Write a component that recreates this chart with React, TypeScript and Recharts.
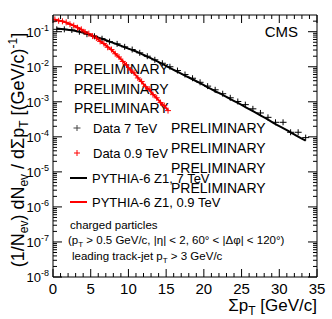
import { ComposedChart, Line, Scatter, XAxis, YAxis } from 'recharts'

// ΣpT bin centres [GeV/c]
const pt7 = [
  0.5, 1.5, 2.5, 3.5, 4.5, 5.5, 6.5, 7.5, 8.5, 9.5, 10.5, 11.5, 12.5, 13.5, 14.5, 15.5, 16.5,
  17.5, 18.5, 19.5, 20.5, 21.5, 22.5, 23.5, 24.5, 25.5, 26.5, 27.5, 28.5, 29.5, 30.5, 31.5, 32.5, 33.5
]
const data7 = [
  0.117, 0.117, 0.112, 0.1, 0.085, 0.074, 0.063, 0.052, 0.045, 0.037, 0.031, 0.025, 0.02, 0.0158,
  0.0126, 0.01, 0.0078, 0.006, 0.0047, 0.0036, 0.0028, 0.0022, 0.0017, 0.0013, 0.00102, 0.00083,
  0.00063, 0.00048, 0.00036, 0.00026, 0.00026, 0.000135, 0.000135, 0.000095
]
const pythia7 = [
  0.123, 0.117, 0.11, 0.1, 0.087, 0.074, 0.063, 0.052, 0.044, 0.036, 0.03, 0.0245, 0.0195, 0.0155,
  0.012, 0.0093, 0.0072, 0.0056, 0.0044, 0.0034, 0.0026, 0.002, 0.00158, 0.0012, 0.00093, 0.00071,
  0.00054, 0.00041, 0.00031, 0.00023, 0.000178, 0.000135, 0.000102, 0.000078
]

const pt09 = [
  0.25, 0.75, 1.25, 1.75, 2.25, 2.75, 3.25, 3.75, 4.25, 4.75, 5.25, 5.75, 6.25, 6.75, 7.25, 7.75,
  8.25, 8.75, 9.25, 9.75, 10.25, 10.75, 11.25, 11.75, 12.25, 12.75, 13.25, 13.75, 14.25, 14.75, 15.25
]
const data09 = [
  0.225, 0.205, 0.198, 0.185, 0.163, 0.15, 0.13, 0.117, 0.098, 0.088, 0.075, 0.066, 0.053, 0.046,
  0.036, 0.031, 0.0235, 0.019, 0.0142, 0.0112, 0.0081, 0.0067, 0.0048, 0.0038, 0.0027, 0.0023,
  0.0016, 0.0013, 0.00095, 0.00078, 0.00056
]
const pythia09 = [
  0.219, 0.209, 0.2, 0.182, 0.166, 0.148, 0.132, 0.115, 0.1, 0.087, 0.076, 0.065, 0.054, 0.045,
  0.037, 0.03, 0.024, 0.0186, 0.0145, 0.011, 0.0083, 0.0065, 0.0049, 0.0037, 0.0028, 0.0022,
  0.00166, 0.00126, 0.00098, 0.00076, 0.00058
]

const xTicks = Array.from({ length: 36 }, (_, i) => i)
const yExps = [-8, -7, -6, -5, -4, -3, -2, -1]
const yTicks = yExps.flatMap((e) => [1, 2, 3, 4, 5, 6, 7, 8, 9].map((m) => m * Math.pow(10, e))).filter((v) => v <= 0.3)

const FONT = '"Liberation Sans", Arial, sans-serif'
const RED = '#ff0000'

const pts = (xs: number[], ys: number[]) => xs.map((x, i) => ({ x, y: ys[i] }))

const isDecade = (v: number) => Math.abs(Math.log10(v) - Math.round(Math.log10(v))) < 1e-6

const XTick = ({ x, y, payload, side }: any) => {
  const major = payload.value % 5 === 0
  const len = major ? 8 : 4
  const dir = side === 'bottom' ? -1 : 1
  return (
    <g>
      <line x1={x} y1={y} x2={x} y2={y + dir * len} stroke='#000' strokeWidth={1} />
      {side === 'bottom' && major && (
        <text x={x} y={y + 17} textAnchor='middle' fontSize={15} fontFamily={FONT} fill='#000'>
          {payload.value}
        </text>
      )}
    </g>
  )
}

const YTick = ({ x, y, payload, side }: any) => {
  const major = isDecade(payload.value)
  const len = major ? 9 : 4
  const dir = side === 'left' ? 1 : -1
  return (
    <g>
      <line x1={x} y1={y} x2={x + dir * len} y2={y} stroke='#000' strokeWidth={1} />
      {side === 'left' && major && (
        <text x={x - 4} y={y + 5} textAnchor='end' fontSize={13} fontFamily={FONT} fill='#000'>
          10
          <tspan dy={-6} fontSize={9}>
            {Math.round(Math.log10(payload.value))}
          </tspan>
        </text>
      )}
    </g>
  )
}

const Cross = ({ cx, cy, color, half }: any) => (
  <g>
    <line x1={cx - half} y1={cy} x2={cx + half} y2={cy} stroke={color} strokeWidth={1} />
    <line x1={cx} y1={cy - 3} x2={cx} y2={cy + 3} stroke={color} strokeWidth={1} />
  </g>
)

export default function App() {
  return (
    <div style={{ position: 'absolute', left: 0, top: 0, background: '#fff', fontFamily: FONT }}>
      <ComposedChart width={332} height={319} margin={{ top: 14, right: 14, bottom: 0, left: 0 }}>
        <XAxis
          dataKey='x'
          type='number'
          domain={[0, 35]}
          ticks={xTicks}
          interval={0}
          allowDataOverflow
          height={42}
          tickSize={0}
          tickMargin={0}
          stroke='#000'
          tick={<XTick side='bottom' />}
        />
        <XAxis
          xAxisId='top'
          orientation='top'
          dataKey='x'
          type='number'
          domain={[0, 35]}
          ticks={xTicks}
          interval={0}
          allowDataOverflow
          height={1}
          tickSize={0}
          tickMargin={0}
          stroke='#000'
          tick={<XTick side='top' />}
        />
        <YAxis
          type='number'
          scale='log'
          domain={[1e-8, 0.3]}
          ticks={yTicks}
          interval={0}
          allowDataOverflow
          width={53}
          tickSize={0}
          tickMargin={0}
          stroke='#000'
          tick={<YTick side='left' />}
        />
        <YAxis
          yAxisId='right'
          orientation='right'
          type='number'
          scale='log'
          domain={[1e-8, 0.3]}
          ticks={yTicks}
          interval={0}
          allowDataOverflow
          width={1}
          tickSize={0}
          tickMargin={0}
          stroke='#000'
          tick={<YTick side='right' />}
        />

        <Line data={pts(pt7, pythia7)} dataKey='y' type='monotone' stroke='#000' strokeWidth={2} dot={false} activeDot={false} isAnimationActive={false} />
        <Line data={pts(pt09, pythia09)} dataKey='y' type='monotone' stroke={RED} strokeWidth={2} dot={false} activeDot={false} isAnimationActive={false} />
        <Scatter data={pts(pt7, data7)} dataKey='y' isAnimationActive={false} shape={(p: any) => <Cross cx={p.cx} cy={p.cy} color='#000' half={3.5} />} />
        <Scatter data={pts(pt09, data09)} dataKey='y' isAnimationActive={false} shape={(p: any) => <Cross cx={p.cx} cy={p.cy} color={RED} half={3} />} />

        <g fontFamily={FONT} fill='#000'>
          <text x={298} y={37} textAnchor='end' fontSize={15}>CMS</text>

          <text x={74} y={74} fontSize={14}>PRELIMINARY</text>
          <text x={74} y={94} fontSize={14}>PRELIMINARY</text>
          <text x={74} y={113} fontSize={14}>PRELIMINARY</text>
          <text x={171} y={133} fontSize={14}>PRELIMINARY</text>
          <text x={171} y={153} fontSize={14}>PRELIMINARY</text>
          <text x={171} y={173} fontSize={14}>PRELIMINARY</text>
          <text x={171} y={193} fontSize={14}>PRELIMINARY</text>

          <Cross cx={77} cy={128} color='#444' half={3.5} />
          <text x={93} y={133} fontSize={13}>Data 7 TeV</text>
          <Cross cx={77} cy={153} color={RED} half={3} />
          <text x={93} y={158} fontSize={13}>Data 0.9 TeV</text>
          <line x1={70} y1={178} x2={87} y2={178} stroke='#000' strokeWidth={2} />
          <text x={92} y={183} fontSize={13}>PYTHIA-6 Z1, 7 TeV</text>
          <line x1={70} y1={202} x2={87} y2={202} stroke={RED} strokeWidth={2} />
          <text x={92} y={207} fontSize={13}>PYTHIA-6 Z1, 0.9 TeV</text>

          <text x={70} y={229} fontSize={11.5}>charged particles</text>
          <text x={68} y={244} fontSize={11.5}>
            (p<tspan dy={3} fontSize={8}>T</tspan>
            <tspan dy={-3}> &gt; 0.5 GeV/c, |η| &lt; 2, 60° &lt; |Δφ| &lt; 120°)</tspan>
          </text>
          <text x={72} y={260} fontSize={11.5}>
            leading track-jet p<tspan dy={3} fontSize={8}>T</tspan>
            <tspan dy={-3}> &gt; 3 GeV/c</tspan>
          </text>

          <text x={317} y={311} textAnchor='end' fontSize={17}>
            Σp<tspan dy={4} fontSize={12}>T</tspan>
            <tspan dy={-4}> [GeV/c]</tspan>
          </text>

          <text transform='translate(24,150) rotate(-90)' textAnchor='middle' fontSize={18}>
            (1/N<tspan dy={4} fontSize={12}>ev</tspan>
            <tspan dy={-4}>)  dN</tspan>
            <tspan dy={4} fontSize={12}>ev</tspan>
            <tspan dy={-4}> / dΣp</tspan>
            <tspan dy={4} fontSize={12}>T</tspan>
            <tspan dy={-4}> [(GeV/c)</tspan>
            <tspan dy={-7} fontSize={12}>-1</tspan>
            <tspan dy={7}>]</tspan>
          </text>
        </g>
      </ComposedChart>
    </div>
  )
}
